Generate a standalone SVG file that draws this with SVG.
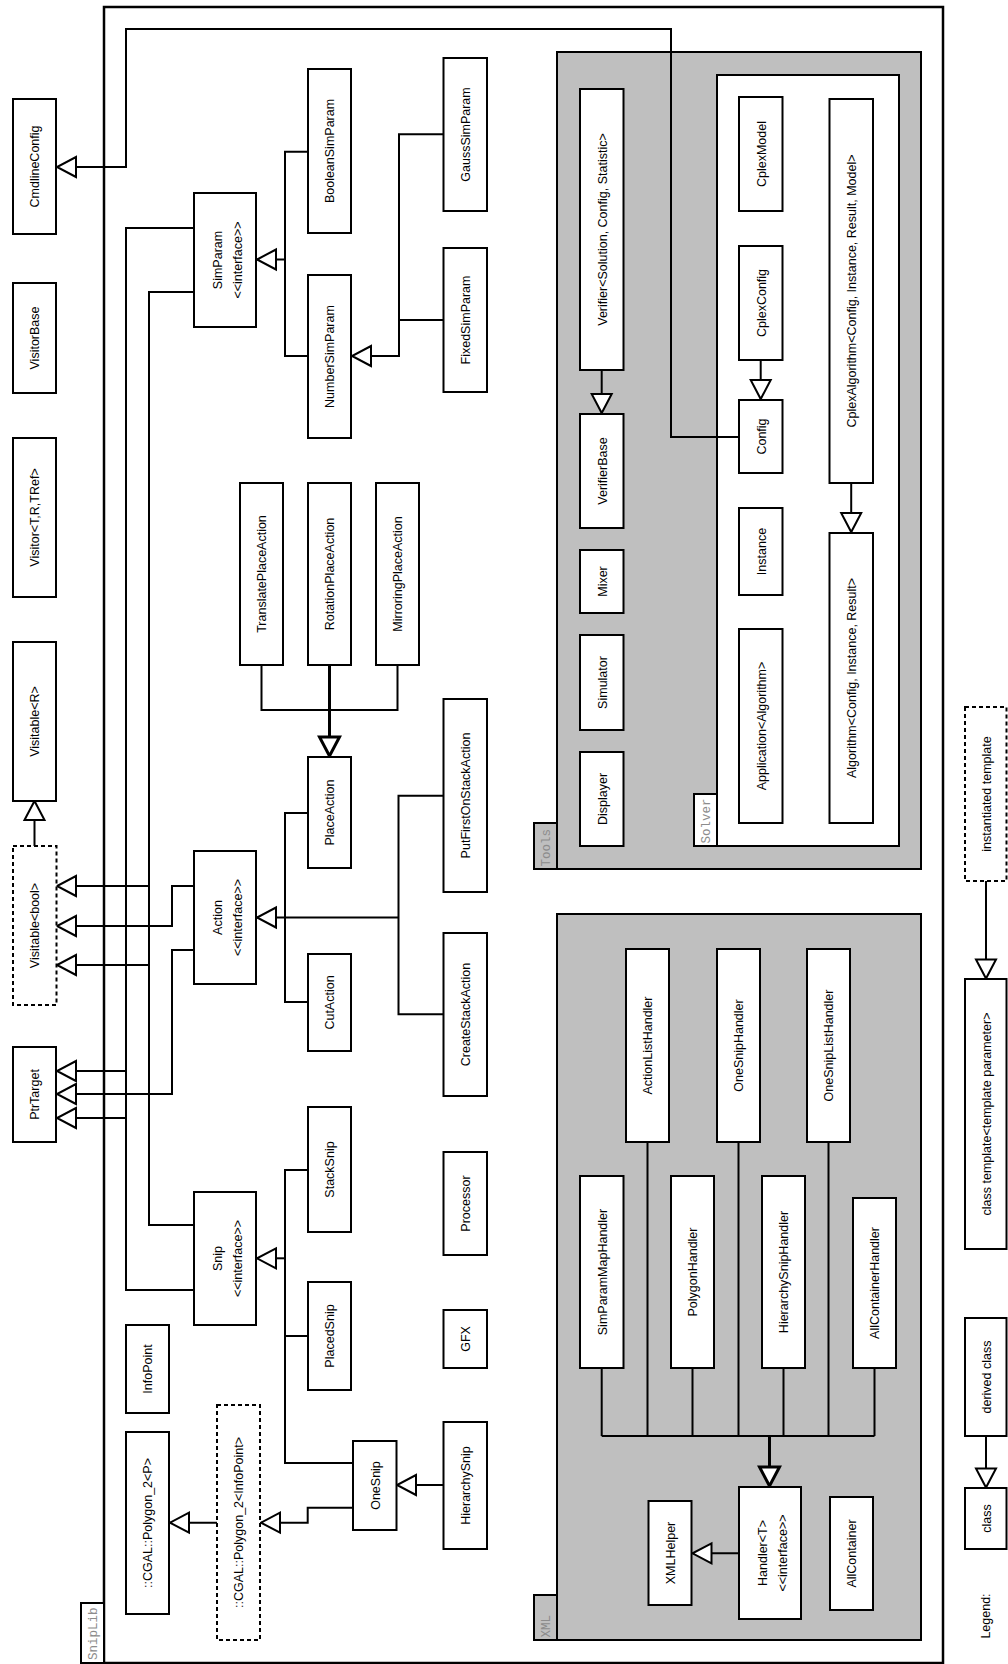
<svg xmlns="http://www.w3.org/2000/svg" width="1008" height="1664" viewBox="0 0 1008 1664">
<style>
.n{fill:#fff;stroke:#000;stroke-width:2}
.d{fill:#fff;stroke:#000;stroke-width:2;stroke-dasharray:4,3}
.pk{fill:#bfbfbf;stroke:#000;stroke-width:2}
.pw{fill:#fff;stroke:#000;stroke-width:2}
.c{fill:none;stroke:#000;stroke-width:2}
.ct{fill:none;stroke:#000;stroke-width:3}
text{font-family:"Liberation Sans",Arial,sans-serif;font-size:12.5px;text-anchor:middle;fill:#000}
text.p{font-family:"Liberation Mono","Courier New",monospace;font-size:12.5px;text-anchor:start;fill:#8c8c8c}
</style>
<defs>
<marker id="tri" viewBox="-3 -3 25 26" refX="19" refY="10" markerWidth="25" markerHeight="26" markerUnits="userSpaceOnUse" orient="auto">
<path d="M0,0 L19,10 L0,20 Z" fill="#fff" stroke="#000" stroke-width="2"/>
</marker>
<marker id="triB" viewBox="-3 -3 25 26" refX="19" refY="10" markerWidth="25" markerHeight="26" markerUnits="userSpaceOnUse" orient="auto">
<path d="M0,0 L19,10 L0,20 Z" fill="#fff" stroke="#000" stroke-width="3"/>
</marker>
</defs>
<rect width="1008" height="1664" fill="#fff"/>

<!-- packages -->
<g id="pkg-sniplib">
<rect x="104" y="7" width="839" height="1656" fill="none" stroke="#000" stroke-width="2.5"/>
<rect x="81" y="1603" width="23" height="60" class="pw"/>
<text class="p" transform="translate(97,1660) rotate(-90)">SnipLib</text>
</g>
<g id="pkg-tools">
<rect x="557" y="52" width="364" height="817" class="pk"/>
<rect x="534" y="823" width="23" height="46" class="pk"/>
<text class="p" transform="translate(550,866.5) rotate(-90)">Tools</text>
</g>
<g id="pkg-solver">
<rect x="717" y="75" width="182" height="771" class="pw"/>
<rect x="694" y="794" width="23" height="52" class="pw"/>
<text class="p" transform="translate(710,843.5) rotate(-90)">Solver</text>
</g>
<g id="pkg-xml">
<rect x="557" y="914" width="364" height="726" class="pk"/>
<rect x="534" y="1595" width="23" height="45" class="pk"/>
<text class="p" transform="translate(550,1637.5) rotate(-90)">XML</text>
</g>

<!-- connectors -->
<g id="connectors">
<path class="c" d="M739,437 H671 V29 H126 V167 H57" marker-end="url(#tri)"/>
<path class="c" d="M194,228 H126 V1118 H57" marker-end="url(#tri)"/>
<path class="c" d="M194,1290 H126 V1071 H57" marker-end="url(#tri)"/>
<path class="c" d="M194,292 H149 V965 H57" marker-end="url(#tri)"/>
<path class="c" d="M194,1225 H149 V886 H57" marker-end="url(#tri)"/>
<path class="c" d="M194,886 H172 V926 H57" marker-end="url(#tri)"/>
<path class="c" d="M194,950 H172 V1094 H57" marker-end="url(#tri)"/>
<path class="c" d="M34.5,846 V801" marker-end="url(#tri)"/>
<!-- SimParam tree -->
<path class="c" d="M307.5,151.7 H285 V356 H307.5"/>
<path class="c" d="M285,259.5 H257" marker-end="url(#tri)"/>
<!-- NumberSimParam tree -->
<path class="c" d="M443.5,134.3 H399 V320 H443.5"/>
<path class="c" d="M399,320 V356 H352" marker-end="url(#tri)"/>
<!-- PlaceAction tree -->
<path class="c" d="M261.5,665 V710 H397.5 V665"/>
<path class="ct" d="M329.5,665 V756" marker-end="url(#triB)"/>
<!-- Action tree -->
<path class="c" d="M307.5,813 H285 V1002 H307.5"/>
<path class="c" d="M443.5,795.7 H398.5 V1014.3 H443.5"/>
<path class="c" d="M398.5,917.5 H285"/>
<path class="c" d="M285,917.5 H257" marker-end="url(#tri)"/>
<!-- Snip tree -->
<path class="c" d="M307.5,1170 H285 V1463 H353"/>
<path class="c" d="M285,1336 H307.5"/>
<path class="c" d="M285,1258.3 H257" marker-end="url(#tri)"/>
<path class="c" d="M443.5,1485 H397" marker-end="url(#tri)"/>
<path class="c" d="M353,1507.7 H307.7 V1522.7 H261" marker-end="url(#tri)"/>
<path class="c" d="M217,1522.7 H170" marker-end="url(#tri)"/>
<!-- Tools / Solver -->
<path class="c" d="M601.7,370 V413" marker-end="url(#tri)"/>
<path class="c" d="M760.7,360 V399" marker-end="url(#tri)"/>
<path class="c" d="M851.2,483 V532" marker-end="url(#tri)"/>
<!-- XML handlers -->
<path class="c" d="M601.7,1368 V1436 M647.5,1142 V1436 M692.5,1368 V1436 M738.5,1142 V1436 M783.5,1368 V1436 M828.5,1142 V1436 M874.5,1368 V1436 M601.7,1436 H874.5"/>
<path class="ct" d="M769.5,1436 V1486" marker-end="url(#triB)"/>
<path class="c" d="M739,1553.3 H692.5" marker-end="url(#tri)"/>
<!-- legend -->
<path class="c" d="M986,1436 V1487.5" marker-end="url(#tri)"/>
<path class="c" d="M986,881 V978.5" marker-end="url(#tri)"/>
</g>

<!-- SnipLib nodes -->
<g id="CmdlineConfig"><rect class="n" x="13" y="99" width="43" height="135"/><text transform="translate(39,166.5) rotate(-90)">CmdlineConfig</text></g>
<g id="VisitorBase"><rect class="n" x="13" y="283" width="43" height="110"/><text transform="translate(39,338) rotate(-90)">VisitorBase</text></g>
<g id="Visitor"><rect class="n" x="13" y="438" width="43" height="159"/><text transform="translate(39,517.5) rotate(-90)">Visitor&lt;T,R,TRef&gt;</text></g>
<g id="VisitableR"><rect class="n" x="13" y="642" width="43" height="159"/><text transform="translate(39,721.5) rotate(-90)">Visitable&lt;R&gt;</text></g>
<g id="VisitableBool"><rect class="d" x="13" y="846" width="43.5" height="159"/><text transform="translate(39,925.5) rotate(-90)">Visitable&lt;bool&gt;</text></g>
<g id="PtrTarget"><rect class="n" x="13" y="1047" width="43" height="95"/><text transform="translate(39,1094.5) rotate(-90)">PtrTarget</text></g>

<g id="SimParam"><rect class="n" x="194" y="193" width="62" height="134"/><text transform="translate(221.5,260) rotate(-90)">SimParam</text><text transform="translate(241.5,260) rotate(-90)">&lt;&lt;interface&gt;&gt;</text></g>
<g id="Action"><rect class="n" x="194" y="851" width="62" height="133"/><text transform="translate(221.5,917.5) rotate(-90)">Action</text><text transform="translate(241.5,917.5) rotate(-90)">&lt;&lt;interface&gt;&gt;</text></g>
<g id="Snip"><rect class="n" x="194" y="1192" width="62" height="133"/><text transform="translate(221.5,1258.5) rotate(-90)">Snip</text><text transform="translate(241.5,1258.5) rotate(-90)">&lt;&lt;interface&gt;&gt;</text></g>

<g id="InfoPoint"><rect class="n" x="126" y="1325" width="43" height="88"/><text transform="translate(152,1369) rotate(-90)">InfoPoint</text></g>
<g id="PolygonP"><rect class="n" x="126" y="1432" width="43" height="182"/><text transform="translate(152,1523) rotate(-90)">::CGAL::Polygon_2&lt;P&gt;</text></g>
<g id="PolygonInfoPoint"><rect class="d" x="217" y="1405" width="43" height="235"/><text transform="translate(243,1522.5) rotate(-90)">::CGAL::Polygon_2&lt;InfoPoint&gt;</text></g>

<g id="BooleanSimParam"><rect class="n" x="308" y="69" width="43" height="164"/><text transform="translate(334,151) rotate(-90)">BooleanSimParam</text></g>
<g id="NumberSimParam"><rect class="n" x="308" y="275" width="43" height="163"/><text transform="translate(334,356.5) rotate(-90)">NumberSimParam</text></g>
<g id="GaussSimParam"><rect class="n" x="443.5" y="58" width="43.5" height="153"/><text transform="translate(470,134.5) rotate(-90)">GaussSimParam</text></g>
<g id="FixedSimParam"><rect class="n" x="443.5" y="248" width="43.5" height="144"/><text transform="translate(470,320) rotate(-90)">FixedSimParam</text></g>

<g id="TranslatePlaceAction"><rect class="n" x="240" y="483" width="43" height="182"/><text transform="translate(266,574) rotate(-90)">TranslatePlaceAction</text></g>
<g id="RotationPlaceAction"><rect class="n" x="308" y="483" width="43" height="182"/><text transform="translate(334,574) rotate(-90)">RotationPlaceAction</text></g>
<g id="MirroringPlaceAction"><rect class="n" x="376" y="483" width="43" height="182"/><text transform="translate(402,574) rotate(-90)">MirroringPlaceAction</text></g>
<g id="PlaceAction"><rect class="n" x="308" y="757" width="43" height="111"/><text transform="translate(334,812.5) rotate(-90)">PlaceAction</text></g>
<g id="CutAction"><rect class="n" x="308" y="954" width="43" height="97"/><text transform="translate(334,1002.5) rotate(-90)">CutAction</text></g>
<g id="PutFirstOnStackAction"><rect class="n" x="443.5" y="699" width="43.5" height="193"/><text transform="translate(470,795.5) rotate(-90)">PutFirstOnStackAction</text></g>
<g id="CreateStackAction"><rect class="n" x="443.5" y="933" width="43.5" height="163"/><text transform="translate(470,1014.5) rotate(-90)">CreateStackAction</text></g>
<g id="Processor"><rect class="n" x="443.5" y="1152" width="43.5" height="103"/><text transform="translate(470,1203.5) rotate(-90)">Processor</text></g>
<g id="GFX"><rect class="n" x="443.5" y="1310" width="43.5" height="58"/><text transform="translate(470,1339) rotate(-90)">GFX</text></g>
<g id="HierarchySnip"><rect class="n" x="443.5" y="1422" width="43.5" height="127"/><text transform="translate(470,1485.5) rotate(-90)">HierarchySnip</text></g>
<g id="StackSnip"><rect class="n" x="308" y="1107" width="43" height="125"/><text transform="translate(334,1169.5) rotate(-90)">StackSnip</text></g>
<g id="PlacedSnip"><rect class="n" x="308" y="1282" width="43" height="108"/><text transform="translate(334,1336) rotate(-90)">PlacedSnip</text></g>
<g id="OneSnip"><rect class="n" x="353" y="1441" width="43.5" height="89"/><text transform="translate(379.5,1485.5) rotate(-90)">OneSnip</text></g>

<!-- Tools -->
<g id="Verifier"><rect class="n" x="580" y="89" width="43.5" height="281"/><text transform="translate(606.5,229.5) rotate(-90)">Verifier&lt;Solution, Config, Statistic&gt;</text></g>
<g id="VerifierBase"><rect class="n" x="580" y="414" width="43.5" height="114"/><text transform="translate(606.5,471) rotate(-90)">VerifierBase</text></g>
<g id="Mixer"><rect class="n" x="580" y="550" width="43.5" height="63"/><text transform="translate(606.5,581.5) rotate(-90)">Mixer</text></g>
<g id="Simulator"><rect class="n" x="580" y="635" width="43.5" height="95"/><text transform="translate(606.5,682.5) rotate(-90)">Simulator</text></g>
<g id="Displayer"><rect class="n" x="580" y="752" width="43.5" height="94"/><text transform="translate(606.5,799) rotate(-90)">Displayer</text></g>

<!-- Solver -->
<g id="CplexModel"><rect class="n" x="739" y="97" width="43.5" height="114"/><text transform="translate(765.5,154) rotate(-90)">CplexModel</text></g>
<g id="CplexConfig"><rect class="n" x="739" y="246" width="43.5" height="114"/><text transform="translate(765.5,303) rotate(-90)">CplexConfig</text></g>
<g id="Config"><rect class="n" x="739" y="400" width="43.5" height="73"/><text transform="translate(765.5,436.5) rotate(-90)">Config</text></g>
<g id="Instance"><rect class="n" x="739" y="508" width="43.5" height="87"/><text transform="translate(765.5,551.5) rotate(-90)">Instance</text></g>
<g id="Application"><rect class="n" x="739" y="629" width="43.5" height="194"/><text transform="translate(765.5,726) rotate(-90)">Application&lt;Algorithm&gt;</text></g>
<g id="CplexAlgorithm"><rect class="n" x="829.5" y="99" width="43.5" height="384"/><text transform="translate(856,291) rotate(-90)">CplexAlgorithm&lt;Config, Instance, Result, Model&gt;</text></g>
<g id="Algorithm"><rect class="n" x="829.5" y="533" width="43.5" height="290"/><text transform="translate(856,678) rotate(-90)">Algorithm&lt;Config, Instance, Result&gt;</text></g>

<!-- XML -->
<g id="ActionListHandler"><rect class="n" x="626" y="949" width="43" height="193"/><text transform="translate(652,1045.5) rotate(-90)">ActionListHandler</text></g>
<g id="OneSnipHandler"><rect class="n" x="717" y="949" width="43" height="193"/><text transform="translate(743,1045.5) rotate(-90)">OneSnipHandler</text></g>
<g id="OneSnipListHandler"><rect class="n" x="807" y="949" width="43" height="193"/><text transform="translate(833,1045.5) rotate(-90)">OneSnipListHandler</text></g>
<g id="SimParamMapHandler"><rect class="n" x="580" y="1176" width="43.5" height="192"/><text transform="translate(606.5,1272) rotate(-90)">SimParamMapHandler</text></g>
<g id="PolygonHandler"><rect class="n" x="671" y="1176" width="43" height="192"/><text transform="translate(697,1272) rotate(-90)">PolygonHandler</text></g>
<g id="HierarchySnipHandler"><rect class="n" x="762" y="1176" width="43" height="192"/><text transform="translate(788,1272) rotate(-90)">HierarchySnipHandler</text></g>
<g id="AllContainerHandler"><rect class="n" x="853" y="1198" width="43" height="170"/><text transform="translate(879,1283) rotate(-90)">AllContainerHandler</text></g>
<g id="Handler"><rect class="n" x="739" y="1487" width="62" height="132"/><text transform="translate(766.5,1553) rotate(-90)">Handler&lt;T&gt;</text><text transform="translate(786.5,1553) rotate(-90)">&lt;&lt;interface&gt;&gt;</text></g>
<g id="XMLHelper"><rect class="n" x="648.5" y="1501" width="43" height="104"/><text transform="translate(674.5,1553) rotate(-90)">XMLHelper</text></g>
<g id="AllContainer"><rect class="n" x="830" y="1497" width="43" height="113"/><text transform="translate(856,1553.5) rotate(-90)">AllContainer</text></g>

<!-- Legend -->
<g id="legend">
<text transform="translate(990,1616) rotate(-90)">Legend:</text>
<g id="legend-class"><rect class="n" x="965" y="1488" width="41.5" height="61"/><text transform="translate(990.5,1518.5) rotate(-90)">class</text></g>
<g id="legend-derived"><rect class="n" x="965" y="1318" width="41.5" height="118"/><text transform="translate(990.5,1377) rotate(-90)">derived class</text></g>
<g id="legend-template"><rect class="n" x="965" y="979" width="41.5" height="270"/><text transform="translate(990.5,1114) rotate(-90)">class template&lt;template parameter&gt;</text></g>
<g id="legend-instantiated"><rect class="d" x="965" y="707" width="41.5" height="174"/><text transform="translate(990.5,794) rotate(-90)">instantiated template</text></g>
</g>
</svg>
